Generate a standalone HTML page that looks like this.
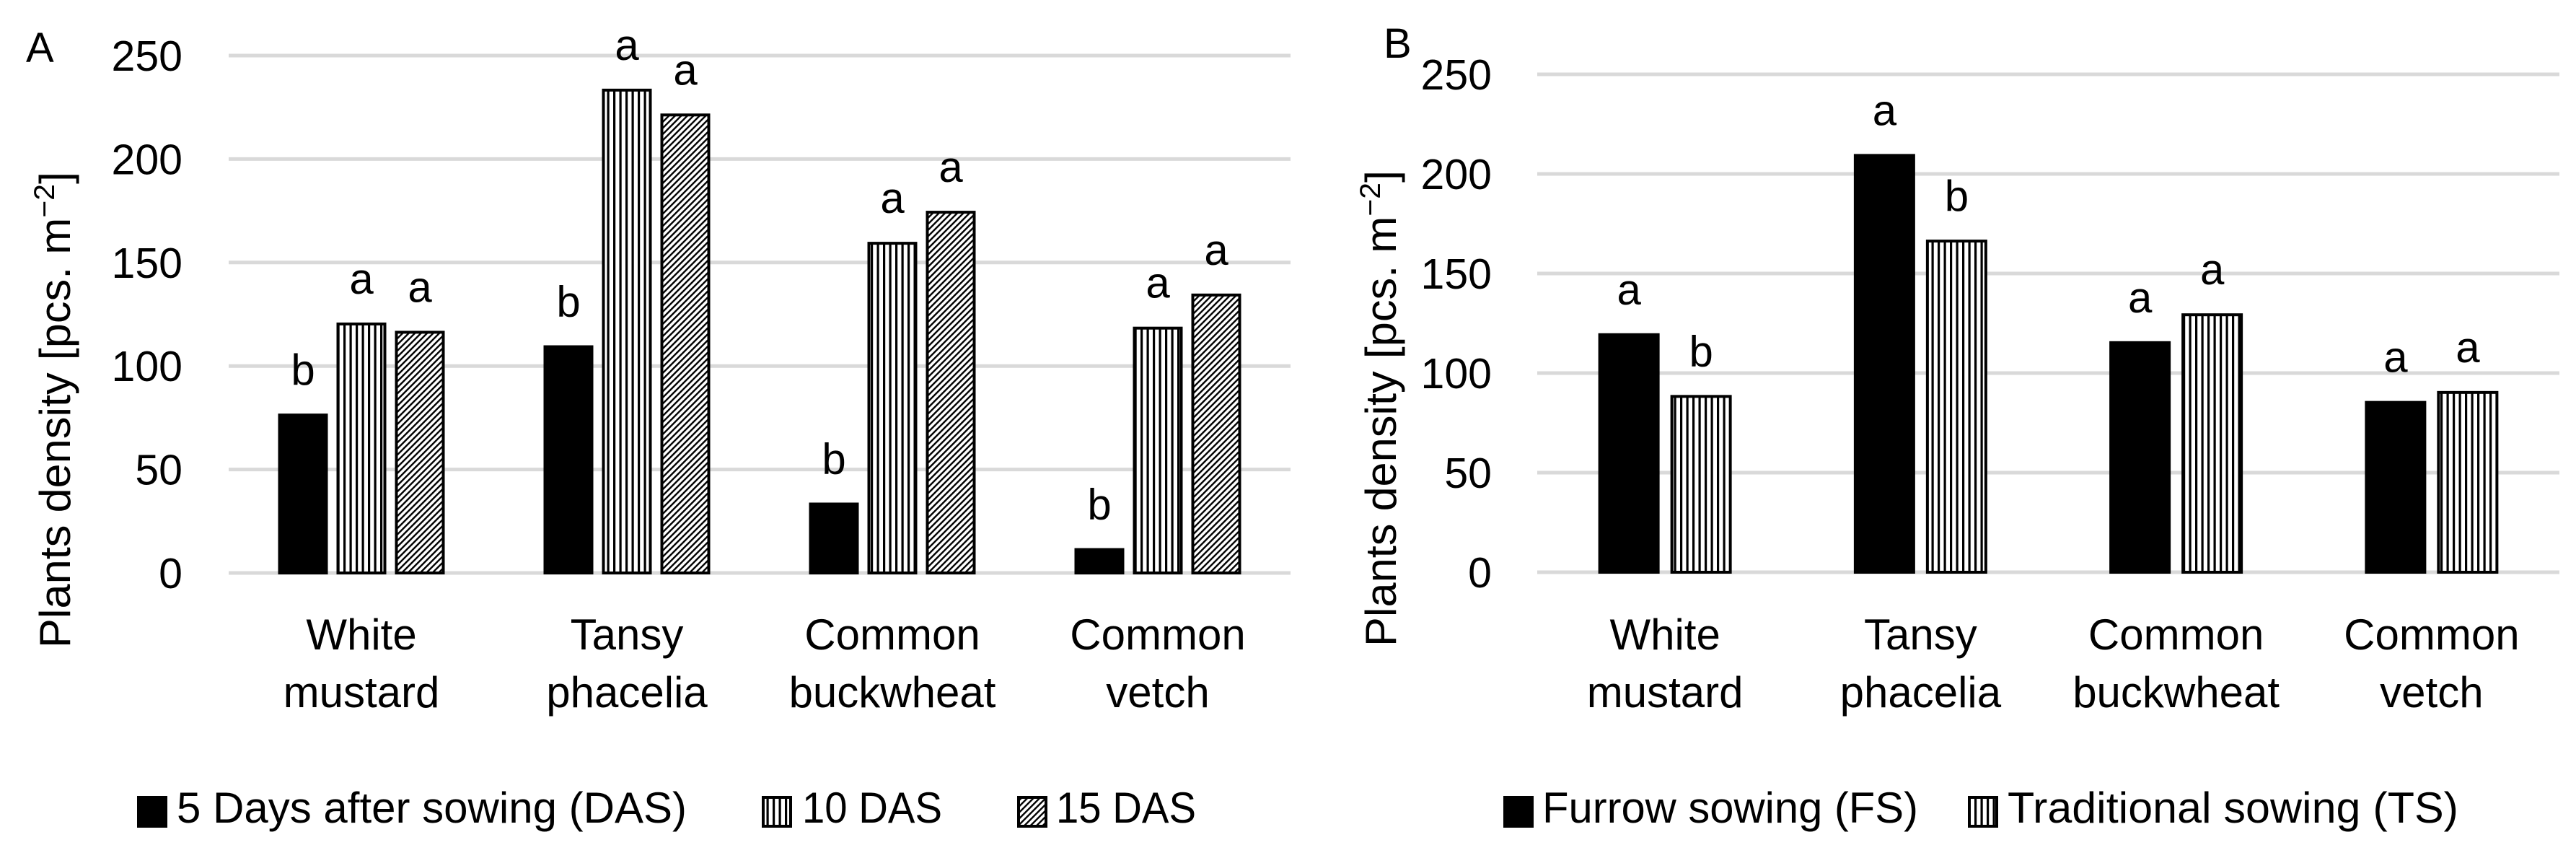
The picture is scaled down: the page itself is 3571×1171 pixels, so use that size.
<!DOCTYPE html>
<html><head><meta charset="utf-8"><style>
html,body{margin:0;padding:0;background:#fff;}
svg{display:block;font-family:"Liberation Sans",sans-serif;}
</style></head><body>
<svg id="chart" width="3571" height="1171" viewBox="0 0 3571 1171" xmlns="http://www.w3.org/2000/svg">
<defs>
<pattern id="vstripe" patternUnits="userSpaceOnUse" width="8.5" height="10"><rect width="8.5" height="10" fill="#fff"/><rect x="0" width="3.2" height="10" fill="#000"/></pattern>
<pattern id="diag" patternUnits="userSpaceOnUse" width="6" height="6" patternTransform="rotate(45)"><rect width="6" height="6" fill="#fff"/><rect x="0" width="2.4" height="6" fill="#000"/></pattern>
</defs>
<g id="gA"></g>
<g id="gB"></g>
</svg>
<script>
const categories = [["White","mustard"],["Tansy","phacelia"],["Common","buckwheat"],["Common","vetch"]];
const ticks = [0,50,100,150,200,250];
const aSeriesNames = ["5 Days after sowing (DAS)","10 DAS","15 DAS"];
const aDas5 = [77,110,34,12];
const aDas10 = [121,234,160,119];
const aDas15 = [117,222,175,135];
const aLetters5 = ["b","b","b","b"];
const aLetters10 = ["a","a","a","a"];
const aLetters15 = ["a","a","a","a"];
const bSeriesNames = ["Furrow sowing (FS)","Traditional sowing (TS)"];
const bFS = [120,210,116,86];
const bTS = [89,167,130,91];
const bLettersFS = ["a","a","a","a"];
const bLettersTS = ["b","b","a","a"];

const NS="http://www.w3.org/2000/svg";
function mk(parent,tag,attrs,text){const e=document.createElementNS(NS,tag);for(const k in attrs)e.setAttribute(k,attrs[k]);if(text!==undefined)e.textContent=text;parent.appendChild(e);return e;}

function panel(g,cfg){
  const y=v=>cfg.y0-(v/250)*(cfg.y0-cfg.y250);
  const catW=(cfg.x1-cfg.x0)/categories.length;
  ticks.forEach(t=>{
    const l=mk(g,'line',{x1:cfg.x0,x2:cfg.x1,y1:y(t),y2:y(t),stroke:'#d9d9d9','stroke-width':5});
    
    
    const tx=mk(g,'text',{x:cfg.tickX,y:y(t)+21,'font-size':59,'text-anchor':'end',fill:'#000'},String(t));
    
    
  });
  const n=cfg.series.length;
  const groupW=n*cfg.bw+(n-1)*cfg.gap;
  categories.forEach((c,i)=>{
    const cx=cfg.x0+catW*(i+0.5);
    cfg.series.forEach((s,j)=>{
      const bx=cx-groupW/2+j*(cfg.bw+cfg.gap);
      const v=s.vals[i];
      const r=mk(g,'rect',{x:bx+2,y:y(v)+2,width:cfg.bw-4,height:y(0)-y(v)-2,fill:s.fill,stroke:'#000','stroke-width':4});
      
      
      const lt=mk(g,'text',{x:bx+cfg.bw/2,y:y(v)-40,'font-size':60,'text-anchor':'middle',fill:'#000'},s.letters[i]);
      
      
    });
    const t1=mk(g,'text',{x:cx,y:900,'font-size':60,'text-anchor':'middle',fill:'#000'},c[0]);
    
    
    const t2=mk(g,'text',{x:cx,y:980,'font-size':60,'text-anchor':'middle',fill:'#000'},c[1]);
    
    
  });
  const yt=mk(g,'text',{x:0,y:0,'font-size':60,'text-anchor':'middle',fill:'#000',transform:`translate(${cfg.titleX},${cfg.titleY}) rotate(-90)`,textLength:660,lengthAdjust:'spacingAndGlyphs'});
  
  
  yt.appendChild(document.createTextNode('Plants density [pcs. m'));
  const sup=mk(yt,'tspan',{dy:-22,'font-size':40},'−2');
  mk(yt,'tspan',{dy:22},']');
  const pl=mk(g,'text',{x:cfg.labelX,y:cfg.labelY,'font-size':58,fill:'#000'},cfg.label);
  
  
  cfg.legend.forEach((L,k)=>{
    const s=cfg.series[k];
    const sq=mk(g,'rect',{x:L.sx+2,y:1105,width:38,height:40,fill:s.fill,stroke:'#000','stroke-width':4});
    
    
    const lt=mk(g,'text',{x:L.tx,y:1140,'font-size':60,fill:'#000',textLength:L.tw,lengthAdjust:'spacingAndGlyphs'},s.name);
    
    
  });
}

panel(document.getElementById('gA'),{
  x0:317,x1:1789,y0:794,y250:77,tickX:253,bw:69,gap:12,
  titleX:97,titleY:568,label:'A',labelX:36,labelY:86,
  series:[
    {key:'5das',name:aSeriesNames[0],vals:aDas5,letters:aLetters5,fill:'#000'},
    {key:'10das',name:aSeriesNames[1],vals:aDas10,letters:aLetters10,fill:'url(#vstripe)'},
    {key:'15das',name:aSeriesNames[2],vals:aDas15,letters:aLetters15,fill:'url(#diag)'}],
  legend:[{sx:190,tx:245,tw:707},{sx:1056,tx:1112,tw:194},{sx:1410,tx:1464,tw:194}]
});
panel(document.getElementById('gB'),{
  x0:2131,x1:3548,y0:793,y250:103,tickX:2068,bw:85,gap:15,
  titleX:1935,titleY:566,label:'B',labelX:1918,labelY:80,
  series:[
    {key:'fs',name:bSeriesNames[0],vals:bFS,letters:bLettersFS,fill:'#000'},
    {key:'ts',name:bSeriesNames[1],vals:bTS,letters:bLettersTS,fill:'url(#vstripe)'}],
  legend:[{sx:2084,tx:2138,tw:521},{sx:2728,tx:2783,tw:625}]
});
</script>
</body></html>
